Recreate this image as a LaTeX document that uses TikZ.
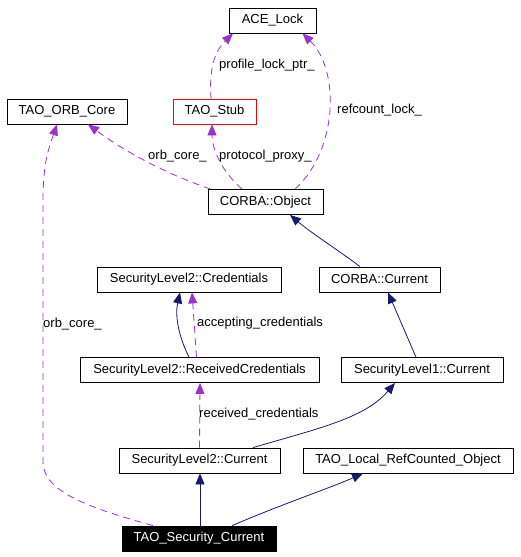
\documentclass[tikz,border=0pt]{standalone}
\usepackage{fontspec}
\setmainfont{Liberation Sans}
\usetikzlibrary{arrows.meta}

\definecolor{navy}{HTML}{191970}
\definecolor{purp}{HTML}{9A32CD}

\tikzset{
  cls/.style={draw=black, line width=0.8pt, minimum height=25pt, inner sep=0pt,
    font=\fontsize{13}{15}\selectfont},
  inh/.style={draw=navy, line width=0.8pt, -{Triangle[length=11pt,width=9pt]}},
  use/.style={draw=purp, line width=0.8pt, dash pattern=on 7pt off 5pt,
    -{Triangle[length=11pt,width=9pt]}},
  lbl/.style={anchor=west, inner sep=0pt, font=\fontsize{13}{15}\selectfont},
}

\begin{document}
\begin{tikzpicture}[x=1pt,y=-1pt]

   \useasboundingbox (0,0) rectangle (520,557);

   \node[cls, minimum width=87pt]  (ace)  at (272.5,20.5) {ACE\_Lock};
   \node[cls, minimum width=120pt] (orb)  at (67,111.5)   {TAO\_ORB\_Core};
   \node[cls, minimum width=83pt, draw=red] (stub) at (214.5,111.5) {TAO\_Stub};
   \node[cls, minimum width=115pt] (obj)  at (265.5,202)  {CORBA::Object};
   \node[cls, minimum width=184pt] (cred) at (189,279.5)  {SecurityLevel2::Credentials};
   \node[cls, minimum width=121pt] (cur)  at (379.5,279.5) {CORBA::Current};
   \node[cls, minimum width=239pt] (recv) at (199.5,370)  {SecurityLevel2::ReceivedCredentials};
   \node[cls, minimum width=162pt] (slA)  at (422,370)    {SecurityLevel1::Current};
   \node[cls, minimum width=161pt] (slB)  at (199.5,460.5) {SecurityLevel2::Current};
   \node[cls, minimum width=210pt] (loc)  at (408,460.5)  {TAO\_Local\_RefCounted\_Object};
   \node[cls, minimum width=154pt, fill=black, text=white] (tsc) at (199,538.5) {TAO\_Security\_Current};

   % heritage
   \draw[inh] ([xshift=-19.5pt]cur.north) .. controls (345,255) and (310,232) .. ([xshift=24.5pt]obj.south);
   \draw[inh] ([xshift=-6pt]slA.north) -- ([xshift=8.5pt]cur.south);
   \draw[inh] ([xshift=-10.5pt]recv.north) .. controls (178,335) and (175,315) .. ([xshift=-9pt]cred.south);
   \draw[inh] ([xshift=53.5pt]slB.north) .. controls (320,428) and (365,418) .. ([xshift=-27pt]slA.south);
   \draw[inh] ([xshift=1pt]tsc.north) -- ([xshift=0.5pt]slB.south);
   \draw[inh] ([xshift=33pt]tsc.north) .. controls (285,503) and (330,488) .. ([xshift=-45pt]loc.south);

   % membres
   \draw[use] ([xshift=-3.5pt]stub.north) .. controls (209,70) and (214,52) .. ([xshift=-39.5pt]ace.south);
   \draw[use] ([xshift=29.5pt]obj.north) .. controls (338,150) and (340,70) .. ([xshift=30pt]ace.south);
   \draw[use] ([xshift=-55pt]obj.north) .. controls (150,168) and (112,142) .. ([xshift=21pt]orb.south);
   \draw[use] ([xshift=-23.5pt]obj.north) .. controls (218,168) and (212,145) .. ([xshift=-2.5pt]stub.south);
   \draw[use] ([xshift=-3pt]recv.north) -- ([xshift=3pt]cred.south);
   \draw[use] (slB.north) -- ([xshift=0.5pt]recv.south);
   \draw[use] ([xshift=-46pt]tsc.north) .. controls (90,508) and (43,492) .. (43,462)
     -- (43,200) .. controls (43,160) and (50,145) .. ([xshift=-10pt]orb.south);

   % etiquettes
   \node[lbl] (lProf) at (219,65)  {profile\_lock\_ptr\_};
   \node[lbl] (lRef)  at (337,110) {refcount\_lock\_};
   \node[lbl] (lOrbA) at (148,156) {orb\_core\_};
   \node[lbl] (lProt) at (219,156) {protocol\_proxy\_};
   \node[lbl] (lOrbB) at (43,324)  {orb\_core\_};
   \node[lbl] (lAcc)  at (197,323) {accepting\_credentials};
   \node[lbl] (lRecv) at (199,414) {received\_credentials};

\end{tikzpicture}
\end{document}
